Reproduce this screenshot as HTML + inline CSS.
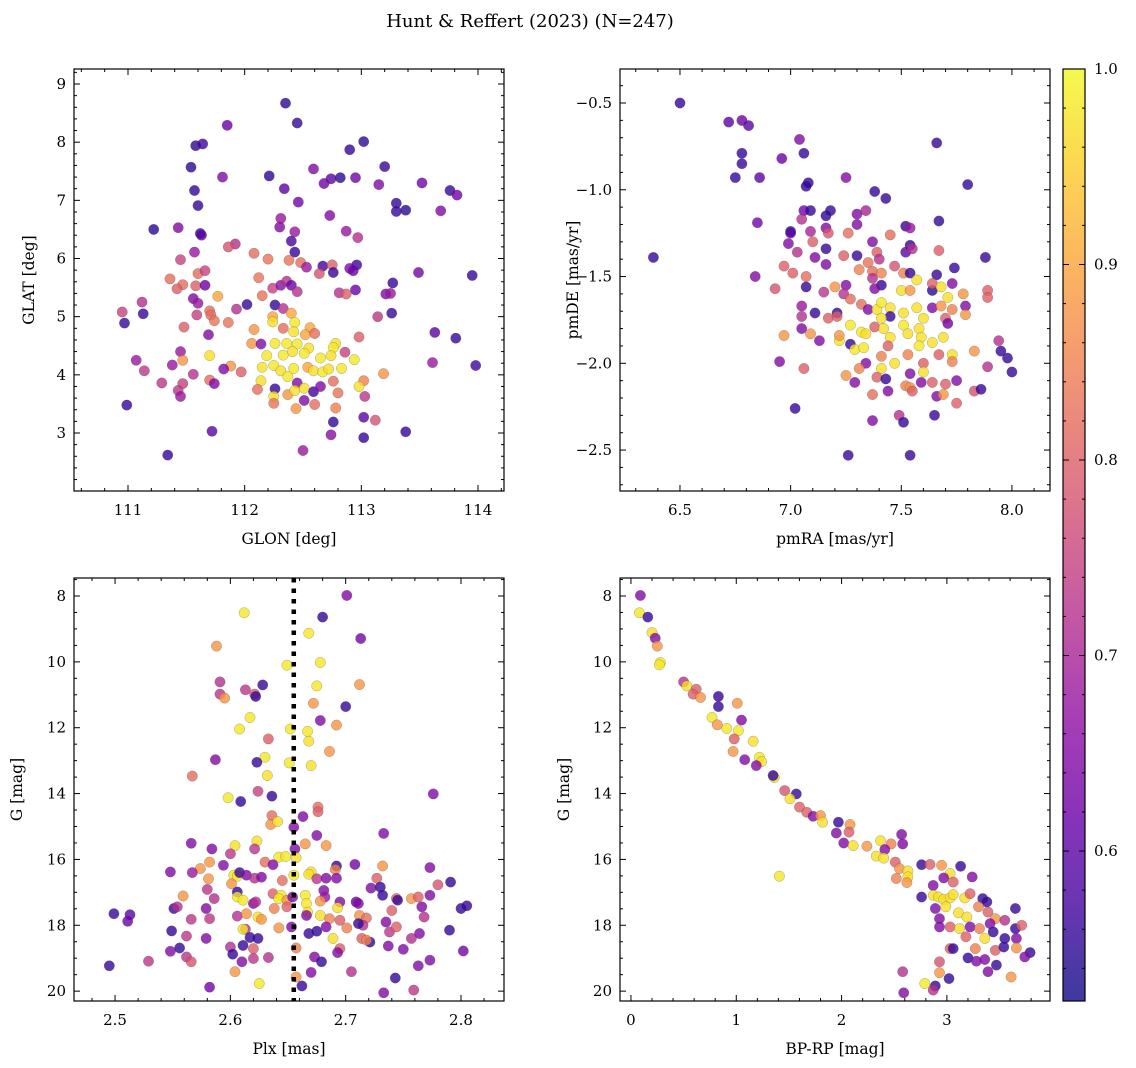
<!DOCTYPE html>
<html><head><meta charset="utf-8">
<style>
html,body{margin:0;padding:0;background:#fff;}
svg{display:block;font-family:"DejaVu Serif","Liberation Serif",serif;}
</style></head>
<body>
<svg id="fig" width="1136" height="1068" viewBox="0 0 1136 1068" xmlns="http://www.w3.org/2000/svg">
<text x="530" y="27" font-size="18" text-anchor="middle">Hunt &amp; Reffert (2023) (N=247)</text>
</svg>
<script>
// ---------- Panel 1: GLON vs GLAT ----------
const p1Glon=[112.35,112.45,111.85,111.58,111.64,113.02,112.90,111.54,111.81,112.21,112.59,112.74,112.82,112.68,112.95,113.20,113.15,113.52,113.76,113.82,111.57,111.60,112.34,112.46,113.30,113.30,113.38,113.68,112.73,112.31,112.30,111.22,111.43,111.62,111.63,112.43,112.40,112.87,112.97,111.92,111.86,111.57,112.43,112.08,112.20,111.45,112.38,112.48,112.53,112.67,112.75,112.76,112.64,112.90,112.96,112.93,113.49,113.95,113.27,111.36,111.47,111.60,111.66,111.58,111.66,111.42,112.12,112.24,112.31,112.36,112.40,112.45,111.77,112.15,112.81,112.87,112.95,113.21,113.25,111.12,111.56,111.60,112.02,111.93,111.70,110.95,111.13,111.59,111.71,111.74,112.26,112.33,113.26,113.14,110.97,111.86,112.24,112.24,112.40,112.43,112.33,112.56,111.48,112.08,112.42,112.52,112.60,111.69,113.63,113.81,112.98,112.06,112.14,112.26,112.36,112.45,112.55,112.78,112.76,111.45,111.07,111.70,112.19,112.33,112.51,112.41,112.65,112.74,112.86,112.94,113.61,113.98,111.47,111.38,111.14,111.88,111.82,111.97,112.15,112.25,112.31,112.42,112.54,112.59,112.67,112.72,112.83,113.19,111.56,111.29,111.47,111.70,111.74,112.14,112.37,112.45,112.76,113.02,112.98,111.43,111.45,112.11,112.26,112.25,112.37,112.43,112.51,112.59,112.65,112.80,113.03,110.99,112.25,112.44,112.51,112.60,112.78,112.76,113.02,113.12,111.72,112.74,113.02,113.38,111.34,112.50];
const p1Glat=[8.67,8.33,8.29,7.94,7.97,8.01,7.87,7.57,7.40,7.42,7.54,7.37,7.39,7.29,7.39,7.58,7.27,7.30,7.17,7.09,7.17,6.91,7.20,6.97,6.95,6.81,6.83,6.82,6.74,6.69,6.54,6.50,6.53,6.43,6.40,6.46,6.30,6.47,6.36,6.25,6.20,6.11,6.11,6.09,5.99,5.98,5.97,5.93,5.85,5.87,5.89,5.76,5.74,5.83,5.89,5.79,5.76,5.71,5.58,5.65,5.55,5.74,5.79,5.53,5.54,5.48,5.67,5.49,5.54,5.61,5.54,5.43,5.35,5.36,5.41,5.39,5.46,5.39,5.40,5.25,5.31,5.23,5.21,5.13,5.10,5.08,5.05,5.03,5.03,4.93,5.20,5.14,5.06,5.00,4.89,4.90,5.00,4.91,5.06,4.90,4.80,4.81,4.82,4.78,4.74,4.69,4.71,4.69,4.73,4.63,4.65,4.54,4.53,4.54,4.54,4.53,4.46,4.54,4.47,4.40,4.25,4.33,4.33,4.34,4.37,4.40,4.29,4.33,4.39,4.26,4.21,4.16,4.25,4.17,4.07,4.15,4.10,4.05,4.13,4.16,4.07,4.11,4.13,4.07,4.05,4.10,4.11,4.02,4.01,3.86,3.85,3.91,3.85,3.90,3.97,3.86,3.89,3.90,3.80,3.73,3.63,3.75,3.76,3.63,3.66,3.73,3.77,3.71,3.80,3.69,3.63,3.48,3.51,3.42,3.56,3.49,3.43,3.19,3.27,3.22,3.03,2.97,2.92,3.02,2.62,2.70];
const p1Prob=[0.55,0.56,0.62,0.55,0.57,0.55,0.56,0.55,0.65,0.55,0.65,0.6,0.55,0.63,0.63,0.56,0.65,0.63,0.56,0.63,0.56,0.56,0.6,0.63,0.56,0.56,0.55,0.65,0.65,0.68,0.65,0.55,0.65,0.56,0.6,0.68,0.58,0.68,0.72,0.72,0.78,0.68,0.56,0.82,0.83,0.75,0.83,0.82,0.68,0.57,0.8,0.56,0.78,0.65,0.57,0.62,0.63,0.56,0.56,0.82,0.82,0.82,0.75,0.8,0.62,0.8,0.83,0.75,0.66,0.72,0.62,0.72,0.9,0.83,0.72,0.8,0.62,0.65,0.68,0.72,0.65,0.68,0.56,0.72,0.82,0.75,0.56,0.75,0.82,0.83,0.56,0.72,0.56,0.73,0.56,0.83,0.9,0.97,0.9,0.98,0.82,0.9,0.8,0.88,0.97,0.9,0.82,0.65,0.6,0.56,0.8,0.88,0.65,0.98,0.98,0.98,0.97,0.97,0.98,0.68,0.68,0.97,0.98,0.98,0.98,0.97,0.98,0.97,0.75,0.98,0.68,0.57,0.88,0.68,0.73,0.88,0.65,0.8,0.97,0.98,0.97,0.98,0.9,0.97,0.98,0.97,0.98,0.88,0.72,0.73,0.75,0.82,0.65,0.97,0.98,0.65,0.82,0.85,0.97,0.73,0.68,0.82,0.56,0.97,0.88,0.97,0.97,0.57,0.65,0.83,0.73,0.56,0.83,0.88,0.65,0.82,0.85,0.56,0.6,0.78,0.6,0.66,0.56,0.56,0.56,0.68];
const p1XTicks=[111,112,113,114];
const p1YTicks=[3,4,5,6,7,8,9];

// ---------- Panel 2: pmRA vs pmDE ----------
const p2PmRA=[6.50,6.72,6.78,6.81,7.04,6.78,7.06,6.78,6.96,6.75,6.86,7.66,7.08,7.07,7.25,7.80,7.38,7.43,6.85,6.38,7.06,7.09,7.16,7.18,7.30,7.34,7.05,7.00,7.00,7.09,7.16,7.17,7.30,7.26,7.45,7.52,7.54,7.67,6.99,7.03,7.10,7.16,7.37,7.54,7.52,7.55,7.67,7.88,6.97,7.01,7.11,7.16,7.24,7.30,7.35,7.39,7.40,7.47,7.31,7.37,7.41,7.51,7.54,7.66,7.74,6.84,6.93,7.07,7.07,7.20,7.25,7.15,7.24,7.37,7.41,7.38,7.50,7.57,7.54,7.64,7.64,7.68,7.73,7.71,7.78,7.89,7.89,7.05,7.05,7.05,7.11,7.21,7.17,7.21,7.27,7.32,7.35,7.39,7.41,7.45,7.45,7.41,7.51,7.57,7.60,7.64,7.68,7.73,7.79,7.79,7.70,7.71,7.27,7.32,7.34,7.38,7.42,7.51,7.53,7.58,7.45,7.59,7.64,7.69,7.58,6.97,7.09,7.13,7.22,7.22,7.27,7.29,7.33,7.44,7.41,7.53,7.67,7.73,7.73,7.83,7.94,7.95,7.98,8.00,7.89,6.95,7.06,7.34,7.31,7.41,7.47,7.60,7.60,7.25,7.29,7.39,7.43,7.54,7.52,7.54,7.55,7.59,7.64,7.70,7.66,7.69,7.75,7.83,7.86,7.75,7.44,7.37,7.02,7.37,7.49,7.51,7.65,7.26,7.54];
const p2PmDE=[-0.50,-0.61,-0.60,-0.63,-0.71,-0.79,-0.79,-0.85,-0.82,-0.93,-0.93,-0.73,-0.96,-0.98,-0.93,-0.97,-1.01,-1.05,-1.19,-1.39,-1.12,-1.12,-1.15,-1.12,-1.14,-1.12,-1.17,-1.24,-1.25,-1.24,-1.22,-1.25,-1.20,-1.25,-1.26,-1.21,-1.22,-1.18,-1.31,-1.36,-1.30,-1.34,-1.30,-1.32,-1.36,-1.34,-1.35,-1.39,-1.44,-1.48,-1.39,-1.43,-1.38,-1.38,-1.42,-1.36,-1.40,-1.44,-1.46,-1.47,-1.48,-1.48,-1.48,-1.49,-1.45,-1.50,-1.57,-1.50,-1.56,-1.56,-1.55,-1.59,-1.60,-1.51,-1.55,-1.57,-1.58,-1.52,-1.58,-1.58,-1.54,-1.56,-1.54,-1.62,-1.60,-1.58,-1.62,-1.67,-1.73,-1.80,-1.71,-1.71,-1.74,-1.73,-1.63,-1.66,-1.69,-1.69,-1.65,-1.68,-1.73,-1.74,-1.71,-1.68,-1.74,-1.68,-1.67,-1.69,-1.67,-1.72,-1.74,-1.77,-1.78,-1.82,-1.83,-1.79,-1.80,-1.78,-1.83,-1.80,-1.85,-1.85,-1.88,-1.85,-1.90,-1.84,-1.83,-1.87,-1.87,-1.84,-1.89,-1.92,-1.91,-1.90,-1.96,-1.95,-1.95,-1.95,-1.99,-1.93,-1.87,-1.93,-1.97,-2.05,-2.02,-1.99,-2.03,-2.00,-2.03,-2.03,-2.00,-2.00,-2.05,-2.07,-2.11,-2.08,-2.09,-2.06,-2.13,-2.14,-2.16,-2.11,-2.11,-2.12,-2.19,-2.18,-2.10,-2.16,-2.15,-2.23,-2.16,-2.18,-2.26,-2.33,-2.30,-2.34,-2.30,-2.53,-2.53];
const p2Prob=[0.56,0.6,0.62,0.6,0.65,0.56,0.56,0.56,0.62,0.56,0.6,0.56,0.55,0.56,0.65,0.56,0.56,0.56,0.63,0.56,0.63,0.56,0.55,0.56,0.65,0.7,0.72,0.55,0.6,0.7,0.65,0.78,0.65,0.82,0.82,0.56,0.68,0.56,0.65,0.72,0.8,0.56,0.65,0.56,0.6,0.72,0.8,0.56,0.8,0.8,0.65,0.65,0.8,0.56,0.83,0.8,0.72,0.78,0.85,0.82,0.85,0.85,0.56,0.56,0.56,0.65,0.78,0.82,0.56,0.88,0.65,0.73,0.72,0.72,0.56,0.65,0.97,0.97,0.88,0.55,0.8,0.97,0.65,0.97,0.88,0.8,0.8,0.68,0.72,0.65,0.56,0.56,0.8,0.8,0.82,0.82,0.65,0.97,0.98,0.97,0.56,0.97,0.97,0.97,0.97,0.65,0.88,0.85,0.65,0.88,0.8,0.63,0.98,0.98,0.97,0.8,0.97,0.98,0.97,0.97,0.97,0.97,0.97,0.97,0.98,0.88,0.88,0.65,0.97,0.88,0.56,0.98,0.98,0.8,0.85,0.85,0.8,0.97,0.85,0.88,0.72,0.56,0.56,0.56,0.72,0.65,0.8,0.65,0.85,0.97,0.97,0.8,0.97,0.88,0.65,0.8,0.56,0.65,0.85,0.88,0.8,0.65,0.8,0.8,0.65,0.88,0.65,0.78,0.56,0.8,0.65,0.82,0.56,0.65,0.72,0.56,0.56,0.56,0.56];
const p2XTicks=[6.5,7.0,7.5,8.0];
const p2YTicks=[-0.5,-1.0,-1.5,-2.0,-2.5];

// ---------- Panel 3: Plx vs G ----------
const p3Plx=[2.701,2.612,2.680,2.668,2.713,2.588,2.649,2.678,2.591,2.628,2.613,2.621,2.591,2.595,2.622,2.675,2.712,2.672,2.700,2.617,2.608,2.678,2.692,2.652,2.667,2.668,2.633,2.686,2.587,2.630,2.623,2.651,2.670,2.632,2.567,2.624,2.636,2.598,2.609,2.776,2.676,2.676,2.636,2.635,2.641,2.663,2.655,2.733,2.675,2.623,2.621,2.566,2.604,2.584,2.600,2.665,2.683,2.656,2.642,2.648,2.657,2.630,2.637,2.582,2.594,2.574,2.548,2.567,2.708,2.692,2.691,2.732,2.773,2.670,2.668,2.603,2.606,2.608,2.614,2.581,2.601,2.621,2.627,2.645,2.655,2.675,2.683,2.692,2.727,2.722,2.730,2.780,2.791,2.580,2.559,2.586,2.606,2.606,2.611,2.620,2.622,2.637,2.644,2.642,2.649,2.654,2.665,2.666,2.667,2.681,2.682,2.678,2.695,2.693,2.709,2.711,2.732,2.744,2.745,2.757,2.763,2.773,2.766,2.800,2.805,2.499,2.513,2.511,2.551,2.554,2.579,2.566,2.582,2.606,2.614,2.624,2.627,2.638,2.649,2.666,2.678,2.686,2.695,2.712,2.718,2.715,2.711,2.735,2.740,2.768,2.738,2.744,2.549,2.562,2.579,2.613,2.611,2.624,2.617,2.642,2.653,2.668,2.675,2.683,2.689,2.701,2.714,2.721,2.718,2.757,2.764,2.790,2.548,2.556,2.562,2.566,2.600,2.602,2.611,2.620,2.610,2.620,2.633,2.657,2.673,2.679,2.670,2.695,2.693,2.737,2.750,2.773,2.763,2.802,2.705,2.743,2.495,2.529,2.604,2.657,2.662,2.625,2.582,2.733,2.759];
const p3G=[7.98,8.51,8.64,9.13,9.29,9.52,10.10,10.02,10.61,10.70,10.85,10.98,10.98,11.10,11.05,10.73,10.69,11.26,11.36,11.69,12.04,11.78,11.92,12.04,12.11,12.41,12.34,12.72,12.97,12.90,13.05,13.07,13.15,13.45,13.47,13.93,14.08,14.13,14.24,14.01,14.41,14.55,14.67,14.94,14.85,14.70,15.02,15.21,15.27,15.44,15.68,15.51,15.58,15.68,15.83,15.53,15.58,15.68,15.93,15.91,15.95,16.08,16.16,16.08,16.18,16.28,16.38,16.40,16.15,16.20,16.31,16.20,16.25,16.38,16.45,16.48,16.51,16.40,16.48,16.59,16.74,16.57,16.54,16.64,16.48,16.59,16.57,16.57,16.57,16.87,16.84,16.77,16.69,16.91,17.11,17.19,16.99,17.14,17.24,17.34,17.29,17.04,17.09,17.19,17.24,17.14,17.09,17.34,17.60,16.94,17.14,17.27,17.29,17.47,17.29,17.34,17.09,17.19,17.24,17.19,17.14,17.09,17.44,17.49,17.41,17.65,17.68,17.88,17.49,17.44,17.49,17.82,17.80,17.72,17.65,17.75,17.82,17.49,17.44,17.70,17.70,17.80,17.85,17.70,17.78,18.00,17.95,17.90,17.55,17.75,18.20,18.05,18.17,18.33,18.40,18.12,18.12,18.40,18.37,18.08,18.05,18.25,18.18,18.05,18.40,18.08,18.40,18.51,18.45,18.40,18.25,18.15,18.79,18.69,18.96,19.11,18.66,18.88,18.61,18.71,19.11,19.01,18.98,18.69,18.96,19.11,19.43,18.71,18.83,18.63,18.73,19.06,19.23,18.78,19.41,19.60,19.23,19.09,19.41,19.57,19.84,19.77,19.88,20.05,19.97];
const p3Prob=[0.65,0.98,0.56,0.98,0.63,0.88,0.98,0.98,0.72,0.56,0.73,0.8,0.73,0.88,0.56,0.98,0.88,0.88,0.56,0.98,0.98,0.65,0.88,0.98,0.98,0.97,0.8,0.88,0.65,0.98,0.56,0.98,0.97,0.97,0.82,0.75,0.56,0.98,0.56,0.65,0.82,0.8,0.82,0.88,0.97,0.65,0.65,0.65,0.65,0.97,0.73,0.65,0.97,0.65,0.73,0.88,0.88,0.65,0.98,0.98,0.97,0.82,0.65,0.88,0.65,0.88,0.65,0.68,0.63,0.56,0.85,0.88,0.65,0.97,0.97,0.98,0.98,0.56,0.65,0.88,0.88,0.72,0.65,0.82,0.98,0.73,0.65,0.65,0.8,0.65,0.56,0.78,0.56,0.73,0.88,0.72,0.56,0.98,0.98,0.65,0.72,0.8,0.98,0.98,0.88,0.65,0.98,0.98,0.97,0.65,0.68,0.88,0.65,0.97,0.62,0.65,0.56,0.8,0.56,0.88,0.8,0.65,0.65,0.56,0.56,0.56,0.6,0.62,0.56,0.72,0.65,0.73,0.73,0.72,0.88,0.97,0.88,0.85,0.8,0.65,0.97,0.85,0.8,0.88,0.82,0.72,0.56,0.65,0.8,0.72,0.73,0.8,0.56,0.73,0.65,0.72,0.98,0.56,0.56,0.88,0.65,0.56,0.56,0.65,0.97,0.85,0.8,0.56,0.85,0.72,0.65,0.56,0.65,0.56,0.73,0.78,0.72,0.56,0.56,0.8,0.65,0.73,0.72,0.85,0.65,0.56,0.65,0.8,0.65,0.65,0.65,0.65,0.65,0.63,0.72,0.56,0.56,0.73,0.88,0.88,0.56,0.98,0.63,0.65,0.73];
const p3XTicks=[2.5,2.6,2.7,2.8];
const p3YTicks=[8,10,12,14,16,18,20];
const p3PlxMedian=2.655;

// ---------- Panel 4: BP-RP vs G ----------
const p4BpRp=[0.09,0.08,0.16,0.20,0.23,0.25,0.28,0.27,0.50,0.53,0.62,0.59,0.66,0.83,0.83,1.01,1.05,0.77,0.82,0.91,1.02,0.98,1.16,0.97,1.08,1.22,1.24,1.19,1.36,1.35,1.46,1.57,1.51,1.60,1.67,1.73,1.80,1.82,1.97,2.08,1.95,2.07,2.57,2.58,2.02,2.11,2.24,2.37,2.47,2.41,2.33,2.40,2.51,2.55,2.63,2.63,2.52,2.62,2.76,2.84,2.95,3.13,3.03,3.24,2.97,3.06,2.87,2.76,2.87,2.92,2.97,3.03,3.06,3.17,3.22,3.34,3.38,3.65,2.89,2.99,3.11,3.19,3.30,3.39,3.46,3.55,2.93,3.03,3.12,2.93,3.22,3.31,3.41,3.44,3.65,3.71,3.18,3.36,3.55,3.66,3.03,3.06,3.27,3.46,3.54,3.66,3.79,3.74,3.20,3.28,3.36,3.47,3.39,3.61,2.93,2.93,3.02,2.58,2.59,2.79,2.89,2.87,1.41];
const p4G=[7.98,8.51,8.64,9.11,9.28,9.52,10.02,10.09,10.61,10.73,10.83,10.98,11.08,11.05,11.36,11.26,11.77,11.69,11.91,12.02,12.09,12.34,12.41,12.72,12.97,12.90,13.03,13.15,13.51,13.45,13.91,14.01,14.16,14.41,14.57,14.69,14.67,14.87,14.87,14.94,15.20,15.17,15.24,15.53,15.50,15.58,15.60,15.43,15.53,15.70,15.90,15.96,16.08,16.28,16.35,16.53,16.58,16.70,16.16,16.15,16.18,16.21,16.43,16.53,16.56,16.69,16.79,17.14,17.09,17.14,17.21,17.17,17.07,17.17,17.04,17.19,17.29,17.49,17.49,17.44,17.62,17.75,17.44,17.60,17.80,17.85,17.80,18.05,18.10,18.05,18.05,18.10,17.95,18.20,18.10,18.00,18.35,18.40,18.40,18.40,18.71,18.71,18.71,18.76,18.66,18.69,18.83,18.96,18.99,19.09,19.04,19.21,19.41,19.57,19.11,19.44,19.62,19.41,20.05,19.77,19.84,19.97,16.51];
const p4Prob=[0.65,0.98,0.56,0.97,0.65,0.88,0.98,0.98,0.72,0.97,0.8,0.8,0.88,0.56,0.56,0.88,0.65,0.98,0.88,0.98,0.98,0.8,0.97,0.88,0.65,0.98,0.97,0.65,0.97,0.56,0.78,0.56,0.97,0.8,0.8,0.65,0.88,0.97,0.56,0.88,0.65,0.8,0.65,0.65,0.65,0.97,0.88,0.97,0.85,0.65,0.97,0.97,0.8,0.88,0.97,0.97,0.85,0.88,0.56,0.8,0.88,0.56,0.97,0.65,0.65,0.8,0.65,0.56,0.97,0.97,0.97,0.97,0.97,0.97,0.8,0.56,0.56,0.56,0.65,0.97,0.97,0.97,0.85,0.8,0.88,0.72,0.65,0.8,0.97,0.65,0.65,0.85,0.65,0.56,0.56,0.8,0.8,0.97,0.56,0.65,0.8,0.56,0.85,0.8,0.56,0.88,0.56,0.65,0.56,0.65,0.65,0.56,0.65,0.88,0.78,0.88,0.56,0.72,0.65,0.98,0.56,0.72,0.98];
const p4XTicks=[0,1,2,3];
const p4YTicks=[8,10,12,14,16,18,20];

// ---------- Colorbar ----------
const cbTicks=[0.6,0.7,0.8,0.9,1.0];
const cbMin=0.5233, cbMax=1.0;

const NS="http://www.w3.org/2000/svg";
const svg=document.getElementById('fig');
const plasma=["#0d0887","#41049d","#6a00a8","#8f0da4","#b12a90","#cc4778","#e16462","#f2844b","#fca636","#fcce25","#f0f921"];
function hex(h){return [parseInt(h.substr(1,2),16),parseInt(h.substr(3,2),16),parseInt(h.substr(5,2),16)];}
function cmap(t){t=Math.max(0,Math.min(1,t));const s=t*10;const i=Math.min(9,Math.floor(s));const f=s-i;const a=hex(plasma[i]),b=hex(plasma[i+1]);
  return "rgb("+a.map((v,k)=>Math.round(v+(b[k]-v)*f)).join(",")+")";}
function probColor(p){return cmap((p-cbMin)/(cbMax-cbMin));}
function el(tag,attrs,parent){const e=document.createElementNS(NS,tag);for(const k in attrs)e.setAttribute(k,attrs[k]);(parent||svg).appendChild(e);return e;}
function fmt(v,dec){const s=Math.abs(v).toFixed(dec);return (v<0?"\u2212":"")+s;}

function panel(cfg){
  const {name,x0,y0,w,h,xmin,xmax,ymin,ymax,xs,ys,ps,xt,yt,xminor,yminor,xdec,ydec,xlabel,ylabel,ylabX,invert}=cfg;
  const g=el('g',{});
  
  
  const X=v=>x0+(v-xmin)/(xmax-xmin)*w;
  const Y=invert? v=>y0+(v-ymin)/(ymax-ymin)*h : v=>y0+h-(v-ymin)/(ymax-ymin)*h;
  const clip=el('clipPath',{id:name+'-clip'},g);
  el('rect',{x:x0,y:y0,width:w,height:h},clip);
  const pts=el('g',{'clip-path':'url(#'+name+'-clip)'},g);
  for(let i=0;i<xs.length;i++){
    const c=el('circle',{cx:X(xs[i]).toFixed(1),cy:Y(ys[i]).toFixed(1),r:5.2,fill:probColor(ps[i]),'fill-opacity':0.8,stroke:'#444','stroke-opacity':0.45,'stroke-width':0.5},pts);
    
    
  }
  if(cfg.vline!==undefined){
    const l=el('line',{x1:X(cfg.vline),x2:X(cfg.vline),y1:y0,y2:y0+h,stroke:'#000','stroke-width':4.5,'stroke-dasharray':'4.5 6'},g);
    
    
  }
  // ticks
  const tk=el('g',{stroke:'#000','stroke-width':1},g);
  const eps=1e-9;
  for(let v=Math.ceil(xmin/xminor)*xminor; v<=xmax+eps; v+=xminor){
    const px=X(v); const major=xt.some(t=>Math.abs(t-v)<xminor/10); const L=major?6:3;
    el('line',{x1:px,x2:px,y1:y0+h,y2:y0+h-L},tk); el('line',{x1:px,x2:px,y1:y0,y2:y0+L},tk);
  }
  for(let v=Math.ceil(ymin/yminor)*yminor; v<=ymax+eps; v+=yminor){
    const py=Y(v); const major=yt.some(t=>Math.abs(t-v)<yminor/10); const L=major?6:3;
    el('line',{x1:x0,x2:x0+L,y1:py,y2:py},tk); el('line',{x1:x0+w,x2:x0+w-L,y1:py,y2:py},tk);
  }
  xt.forEach(v=>{const t=el('text',{x:X(v),y:y0+h+24,'font-size':15,'text-anchor':'middle'},g);t.textContent=fmt(v,xdec);
    
    });
  yt.forEach(v=>{const t=el('text',{x:x0-8,y:Y(v)+5,'font-size':15,'text-anchor':'end'},g);t.textContent=fmt(v,ydec);
    
    });
  el('rect',{x:x0,y:y0,width:w,height:h,fill:'none',stroke:'#000','stroke-width':1.2},g);
  const xl=el('text',{x:x0+w/2,y:y0+h+53,'font-size':15.5,'text-anchor':'middle'},g);xl.textContent=xlabel;
  
  
  const cy=y0+h/2;
  const yl=el('text',{x:ylabX,y:cy,'font-size':15.5,'text-anchor':'middle',transform:'rotate(-90 '+ylabX+' '+cy+')'},g);yl.textContent=ylabel;
  
  
}

panel({name:'glon-glat',x0:74,y0:69,w:430,h:422,xmin:110.537,xmax:114.223,ymin:2.003,ymax:9.258,xs:p1Glon,ys:p1Glat,ps:p1Prob,xt:p1XTicks,yt:p1YTicks,xminor:0.2,yminor:0.2,xdec:0,ydec:0,xlabel:'GLON [deg]',ylabel:'GLAT [deg]',ylabX:34,invert:false});
panel({name:'pmra-pmde',x0:620,y0:69,w:430,h:422,xmin:6.229,xmax:8.172,ymin:-2.736,ymax:-0.304,xs:p2PmRA,ys:p2PmDE,ps:p2Prob,xt:p2XTicks,yt:p2YTicks,xminor:0.1,yminor:0.1,xdec:1,ydec:1,xlabel:'pmRA [mas/yr]',ylabel:'pmDE [mas/yr]',ylabX:578,invert:false});
panel({name:'plx-g',x0:74,y0:578,w:430,h:423,xmin:2.4644,xmax:2.8373,ymin:7.453,ymax:20.30,xs:p3Plx,ys:p3G,ps:p3Prob,xt:p3XTicks,yt:p3YTicks,xminor:0.02,yminor:0.5,xdec:1,ydec:0,xlabel:'Plx [mas]',ylabel:'G [mag]',ylabX:22,invert:true,vline:p3PlxMedian});
panel({name:'bprp-g',x0:620,y0:578,w:430,h:423,xmin:-0.104,xmax:3.979,ymin:7.453,ymax:20.30,xs:p4BpRp,ys:p4G,ps:p4Prob,xt:p4XTicks,yt:p4YTicks,xminor:0.2,yminor:0.5,xdec:0,ydec:0,xlabel:'BP-RP [mag]',ylabel:'G [mag]',ylabX:569,invert:true});

// colorbar
(function(){
  const cx=1063,cy=69,cw=22,ch=932;
  const defs=el('defs',{});
  const gr=el('linearGradient',{id:'cbgrad',x1:0,y1:1,x2:0,y2:0},defs);
  for(let i=0;i<=20;i++){const f=i/20;el('stop',{offset:f,'stop-color':cmap(f),'stop-opacity':0.8},gr);}
  const g=el('g',{});
  
  
  el('rect',{x:cx,y:cy,width:cw,height:ch,fill:'url(#cbgrad)'},g);
  const Y=v=>cy+ch-(v-cbMin)/(cbMax-cbMin)*ch;
  for(let v=0.54;v<=1.0001;v+=0.02){const py=Y(v);const major=cbTicks.some(t=>Math.abs(t-v)<0.005);const L=major?6:3;
    el('line',{x1:cx,x2:cx+L,y1:py,y2:py,stroke:'#000'},g);el('line',{x1:cx+cw,x2:cx+cw-L,y1:py,y2:py,stroke:'#000'},g);}
  cbTicks.forEach(v=>{const t=el('text',{x:cx+cw+9,y:Y(v)+5,'font-size':15},g);t.textContent=v.toFixed(1);
    
    });
  el('rect',{x:cx,y:cy,width:cw,height:ch,fill:'none',stroke:'#000','stroke-width':1.2},g);
})();
</script>
</body></html>
